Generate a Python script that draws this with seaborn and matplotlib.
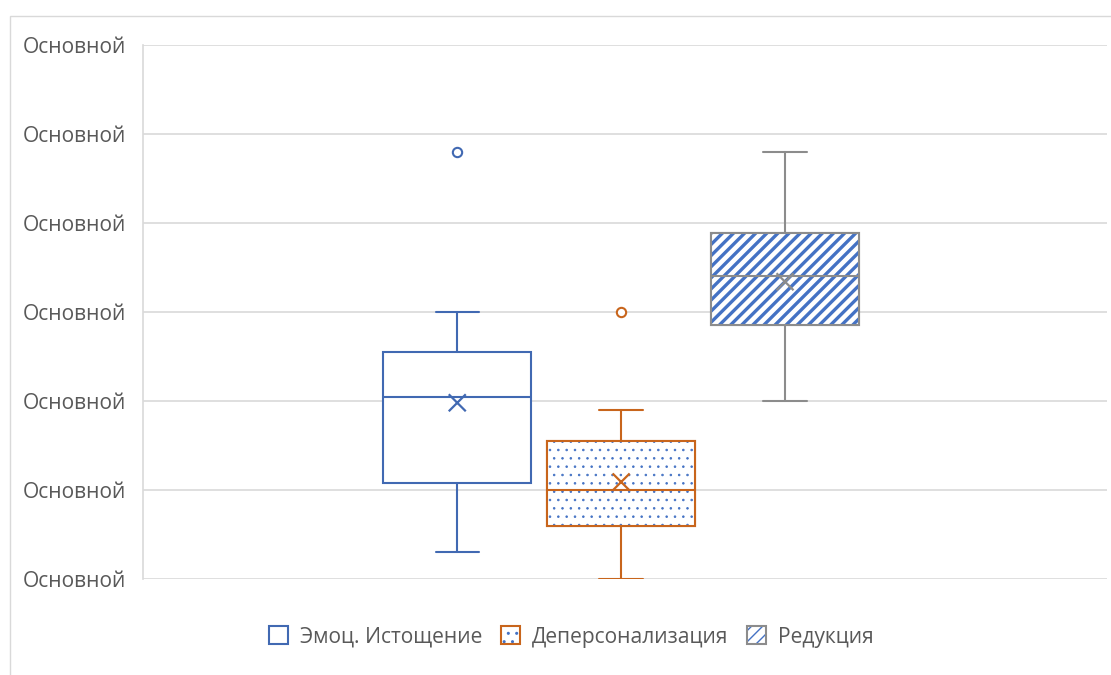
import os
import matplotlib
matplotlib.use("Agg")
import matplotlib.pyplot as plt
import pandas as pd
import seaborn as sns
from matplotlib import font_manager as fm
from matplotlib.patches import Patch, PathPatch, Rectangle
from matplotlib.legend_handler import HandlerTuple

# Five-number summaries, means and outliers per scale
series = ["Эмоц. Истощение", "Деперсонализация", "Редукция"]
whisker_low = [3.0, 0.0, 20.0]
quartile_1 = [10.8, 6.0, 28.5]
medians = [20.5, 10.0, 34.0]
quartile_3 = [25.5, 15.5, 38.9]
whisker_high = [30.0, 19.0, 48.0]
means = [19.8, 10.9, 33.4]
outliers = [[48.0], [30.0], []]

y_ticks = [0, 10, 20, 30, 40, 50, 60]
y_tick_labels = ["Основной"] * len(y_ticks)

# Styling
edge_colors = ["#4169B2", "#C8651C", "#8C8C8C"]
hatch_color = "#4472C4"
hatches = [None, "..", "///"]
hatch_widths = {"..": 0.6, "///": 2.4}
text_color = "#595959"
grid_color = "#D9D9D9"
font_size = 15.1

sns.set_theme(style="white")
plt.rcParams["font.family"] = ["Open Sans", "DejaVu Sans"]

font_file = "/usr/share/fonts/truetype/google-fonts/OpenSans[wdth,wght].ttf"
if os.path.exists(font_file):
    label_font = fm.FontProperties(fname=font_file, size=font_size)
else:
    label_font = fm.FontProperties(family=["Open Sans", "DejaVu Sans"],
                                   size=font_size)

W, H = 1111, 675
fig = plt.figure(figsize=(W / 100, H / 100), dpi=100)
ax = fig.add_axes([143 / W, 1 - 579 / H, 964 / W, 534 / H])

slot = 0.170
box_width = 0.154
cap_width = 0.045
positions = [(i - 1) * slot for i in range(len(series))]

stats = [
    dict(label=s, whislo=lo, q1=a, med=m, q3=b, whishi=hi, fliers=[])
    for s, lo, a, m, b, hi in zip(series, whisker_low, quartile_1, medians,
                                  quartile_3, whisker_high)
]
bp = ax.bxp(stats, positions=positions, widths=box_width, capwidths=cap_width,
            patch_artist=True, showfliers=False, showmeans=False,
            manage_ticks=False)


def hatched(path_or_none, hatch):
    """White patch carrying a blue hatch, no outline."""
    hlw = hatch_widths[hatch]
    with plt.rc_context({"hatch.linewidth": hlw}):
        if path_or_none is None:
            p = Patch(facecolor="white", edgecolor=hatch_color, hatch=hatch,
                      linewidth=0)
        else:
            p = PathPatch(path_or_none, facecolor="white",
                          edgecolor=hatch_color, hatch=hatch, linewidth=0)
    if hasattr(p, "set_hatch_linewidth"):
        p.set_hatch_linewidth(hlw)
    return p


lw = 1.5
for i, color in enumerate(edge_colors):
    box = bp["boxes"][i]
    box.set(facecolor="white", edgecolor=color, linewidth=lw, zorder=2)
    for art in (bp["whiskers"][2 * i], bp["whiskers"][2 * i + 1],
                bp["caps"][2 * i], bp["caps"][2 * i + 1], bp["medians"][i]):
        art.set(color=color, linewidth=lw, zorder=4)
    if hatches[i]:
        fill = hatched(box.get_path(), hatches[i])
        fill.set_zorder(3)
        ax.add_patch(fill)
        ax.add_patch(PathPatch(box.get_path(), fill=False, edgecolor=color,
                               linewidth=lw, zorder=3.5))

# Mean markers
mean_df = pd.DataFrame({"pos": positions, "mean": means, "series": series})
sns.scatterplot(data=mean_df, x="pos", y="mean", hue="series",
                palette=edge_colors, marker="x", s=150, legend=False,
                ax=ax, zorder=5)
mean_pts = ax.collections[-1]
mean_pts.set_edgecolor(edge_colors)
mean_pts.set_facecolor(edge_colors)
mean_pts.set_linewidth(1.6)

# Outlier points
for pos, vals, color in zip(positions, outliers, edge_colors):
    if not vals:
        continue
    sns.scatterplot(x=[pos] * len(vals), y=vals, marker="o", s=45,
                    legend=False, ax=ax, zorder=5)
    pts = ax.collections[-1]
    pts.set_facecolor("white")
    pts.set_edgecolor(color)
    pts.set_linewidth(1.5)

ax.set_xlim(-0.496, 0.504)
ax.set_ylim(y_ticks[0], y_ticks[-1])
ax.set_xticks([])
ax.set_yticks(y_ticks, y_tick_labels)
for lab in ax.get_yticklabels():
    lab.set_fontproperties(label_font)
    lab.set_color(text_color)
ax.set_xlabel("")
ax.set_ylabel("")
ax.tick_params(axis="y", length=0, pad=12)
ax.yaxis.grid(True, color=grid_color, linewidth=1.2)
ax.set_axisbelow(True)
for side in ("top", "right", "bottom"):
    ax.spines[side].set_visible(False)
ax.spines["left"].set_color(grid_color)
ax.spines["left"].set_linewidth(1.2)

# Legend
handles = []
for color, hatch in zip(edge_colors, hatches):
    if hatch:
        handles.append((hatched(None, hatch),
                        Patch(fill=False, edgecolor=color, linewidth=lw)))
    else:
        handles.append(Patch(facecolor="white", edgecolor=color, linewidth=lw))

fig.legend(handles, series, loc="center",
           bbox_to_anchor=(571 / W, 1 - 637 / H), ncol=3, frameon=False,
           prop=label_font, labelcolor=text_color, handlelength=0.92,
           handleheight=0.92, handletextpad=0.55, columnspacing=0.9,
           handler_map={tuple: HandlerTuple(ndivide=1)})

# Chart area border
fig.patches.append(Rectangle((10 / W, -0.05), 1.2, 1 - 16 / H + 0.05,
                             transform=fig.transFigure, fill=False,
                             edgecolor=grid_color, linewidth=1.0))

fig.savefig("out.png", dpi=100, facecolor="white")
